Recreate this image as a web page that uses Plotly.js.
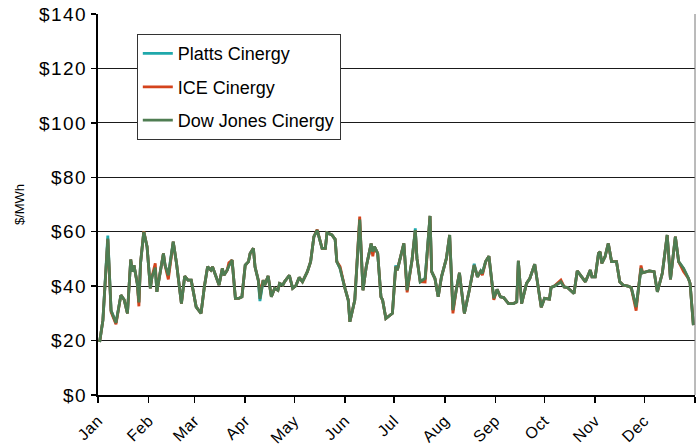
<!DOCTYPE html>
<html>
<head>
<meta charset="utf-8">
<script src="https://cdn.plot.ly/plotly-3.0.1.min.js"></script>
<style>html,body{margin:0;padding:0;background:#fff;}#chart{width:697px;height:447px;}
#chart .ytick text{letter-spacing:1.5px;}
#chart .xtick text{letter-spacing:0.6px;}
</style>
</head>
<body>
<div id="chart"></div>
<script>
const dates = [
 '2005-01-02','2005-01-04','2005-01-07','2005-01-09','2005-01-12','2005-01-15','2005-01-17','2005-01-19','2005-01-21','2005-01-22','2005-01-23','2005-01-25','2005-01-26','2005-01-27','2005-01-29','2005-01-31',
 '2005-02-02','2005-02-03','2005-02-05','2005-02-06','2005-02-10','2005-02-11','2005-02-13','2005-02-16','2005-02-18','2005-02-21','2005-02-23','2005-02-25','2005-02-27',
 '2005-03-02','2005-03-05','2005-03-07','2005-03-09','2005-03-11','2005-03-12','2005-03-14','2005-03-16','2005-03-18','2005-03-19','2005-03-21','2005-03-22','2005-03-24','2005-03-26','2005-03-28','2005-03-30',
 '2005-04-01','2005-04-03','2005-04-04','2005-04-06','2005-04-07','2005-04-09','2005-04-10','2005-04-12','2005-04-13','2005-04-15','2005-04-17','2005-04-19','2005-04-21','2005-04-22','2005-04-24','2005-04-25','2005-04-28','2005-04-30',
 '2005-05-02','2005-05-04','2005-05-06','2005-05-09','2005-05-11','2005-05-13','2005-05-15','2005-05-16','2005-05-18','2005-05-20','2005-05-21','2005-05-24','2005-05-26','2005-05-27','2005-05-29',
 '2005-06-01','2005-06-03','2005-06-04','2005-06-07','2005-06-10','2005-06-12','2005-06-14','2005-06-17','2005-06-18','2005-06-19','2005-06-21','2005-06-23','2005-06-24','2005-06-26','2005-06-30',
 '2005-07-02','2005-07-03','2005-07-07','2005-07-09','2005-07-12','2005-07-14','2005-07-15','2005-07-17','2005-07-20','2005-07-23','2005-07-24','2005-07-26','2005-07-28','2005-07-30',
 '2005-08-02','2005-08-04','2005-08-06','2005-08-08','2005-08-10','2005-08-11','2005-08-13','2005-08-16','2005-08-19','2005-08-21','2005-08-23','2005-08-24','2005-08-26','2005-08-28','2005-08-31',
 '2005-09-02','2005-09-04','2005-09-06','2005-09-09','2005-09-12','2005-09-14','2005-09-15','2005-09-17','2005-09-20','2005-09-22','2005-09-25','2005-09-27','2005-09-29',
 '2005-10-01','2005-10-04','2005-10-05','2005-10-07','2005-10-11','2005-10-13','2005-10-15','2005-10-19','2005-10-21','2005-10-24','2005-10-26','2005-10-29','2005-10-30',
 '2005-11-01','2005-11-03','2005-11-04','2005-11-05','2005-11-07','2005-11-09','2005-11-11','2005-11-14','2005-11-16','2005-11-18','2005-11-21','2005-11-23','2005-11-26','2005-11-29','2005-11-30',
 '2005-12-04','2005-12-07','2005-12-09','2005-12-12','2005-12-15','2005-12-17','2005-12-20','2005-12-22','2005-12-25','2005-12-28','2005-12-29','2005-12-31'
];
const dowJones = [
 19.5,27.5,57.5,31,26.5,36.7,35,30,49.8,45.3,47.7,41,34,48.4,60,54.5,
 39.2,43.4,46.8,37.9,52,47.7,44,56.3,48.4,33.6,43.7,42.2,42.2,
 32.4,30,39.7,47.1,45.9,47.1,44,40.4,46.5,44,45.9,47.5,49.6,35.5,35.5,36.1,
 47.7,49,52,53.9,47.1,42.2,35.3,42.2,40.4,43.7,36.1,39.2,38.5,41,40.4,41.6,44,39.2,
 40.2,43.2,41.6,45.3,49,58.2,60.6,58.4,53.9,53.9,59.6,58.8,57.2,49,46.5,
 39.2,34.9,26.9,34.9,64.5,38.5,47.1,55.7,52.6,54.5,52,36.1,34.9,28.1,30,
 47.1,45.9,55.7,38.5,49.6,60.6,50.2,41.6,42.8,65.8,45.3,42.8,36.1,43.4,
 50.2,58.8,31.2,38.5,44.9,39.7,30,38.5,47.7,43.4,45.6,44.7,49,51,35.5,
 38.8,36.1,35.8,33.6,33.6,34.2,49.3,33.6,41,42.8,48.1,39.7,32.2,
 35.5,35.2,39.5,40,41.6,39.7,39.5,37.3,45.6,43.4,41.6,45.9,43.4,
 43.4,52,52.6,48.4,50.8,55.7,49,49,41.6,40.4,40,39.5,32.3,46.5,44.9,
 45.6,45.3,37.9,44.7,58.8,42.5,58.2,49,46.5,42.8,41,25.7
];
const ice = [
 19.5,27.5,57.2,30.5,26,36.7,35,30,49.8,45.3,47.7,41,32.6,48.4,60.2,54.5,
 39.2,43.4,48.4,37.9,52,47.7,42.5,56.3,48.4,33.6,43.7,42.2,42.2,
 32.4,30,39.7,47.1,45.9,47.1,44,40.4,46.5,44,45.9,48.6,49.6,35.5,35.5,36.1,
 47.7,49,52,53.9,47.1,42.2,37.5,42.2,40.4,43.7,36.1,39.2,38.5,41,40.4,41.6,44,39.2,
 40.2,43.2,41.6,45.3,49,58.2,60.8,58.4,53.9,53.9,59.6,58.8,57.2,49,47.2,
 39.2,34.9,26.9,34.9,65.6,38.5,47.1,55.7,51,54.5,52,36.1,34.9,28.1,30,
 47.1,45.9,55.7,37.7,49.6,60.6,50.2,41.6,41.5,65.8,45.3,42.8,36.1,43.4,
 50.2,58.8,30,38.5,44.9,39.7,30,38.5,47.7,43.4,45.6,44,49,51,35,
 38.8,36.1,35.8,33.6,33.6,34.2,49.3,33.6,41,42.8,48.1,39.7,32.2,
 35.5,35.2,39.5,40,42.2,39.7,39.5,37.3,45.6,43.4,41.6,45.9,43.4,
 43.4,52,52.6,48.4,50.8,55.7,49,49,41.6,40.4,40,39.5,31,47.6,44.9,
 45.6,45.3,37.9,44.7,58.8,42.5,58.2,49,45.4,42.8,41,25.7
];
const platts = [
 19.5,27.5,58.6,31,26.5,36.7,35,30,49.8,45.3,47.7,41,34,48.4,60,54.5,
 39.2,43.4,46.8,37.9,52,47.7,44,56.3,48.4,33.6,43.7,42.2,42.2,
 32.4,30,39.7,47.1,45.9,47.1,44,40.4,46.5,44,45.9,47.5,49.6,35.5,35.5,36.1,
 47.7,49,52,53.9,47.1,42.2,34.5,42.2,40.4,43.7,36.1,39.2,38.5,41,40.4,41.6,44,39.2,
 40.2,43.2,41.6,45.3,49,58.2,60.6,58.4,53.9,53.9,59.6,58.8,57.2,49,46.5,
 39.2,34.9,26.9,34.9,64.5,38.5,47.1,55.7,52.6,54.5,52,36.1,34.9,28.1,30,
 47.6,45.9,55.7,38.5,49.6,61.2,50.2,41.6,42.8,65.8,45.3,42.8,36.1,43.4,
 50.2,58.8,31.2,38.5,44.9,39.7,30,38.5,48.2,43.4,45.6,44.7,49,51,35.5,
 38.8,36.1,35.8,33.6,33.6,34.2,49.3,33.6,41,42.8,48.1,39.7,32.2,
 35.5,35.2,39.5,40,41.6,39.7,39.5,37.3,45.6,43.4,41.6,45.9,43.4,
 43.4,52,52.6,48.4,50.8,55.7,49,49,41.6,40.4,40,39.5,32.3,46.5,44.9,
 45.6,45.3,37.9,44.7,58.8,42.5,58.2,49,46.5,42.8,41,25.7
];
const seriesNames = ['Platts Cinergy','ICE Cinergy','Dow Jones Cinergy'];
const seriesColors = ['#1fa8ab','#d4431c','#4f7d52'];
const monthTicks = ['2005-01-01','2005-02-01','2005-03-01','2005-04-01','2005-05-01','2005-06-01','2005-07-01','2005-08-01','2005-09-01','2005-10-01','2005-11-01','2005-12-01','2006-01-01'];
const monthLabels = ['Jan','Feb','Mar','Apr','May','Jun','Jul','Aug','Sep','Oct','Nov','Dec',''];
const yTicks = [0,20,40,60,80,100,120,140];
const yLabels = ['$0','$20','$40','$60','$80','$100','$120','$140'];

const values = [platts, ice, dowJones];
const traces = values.map((v,i)=>({
  x: dates, y: v, type:'scatter', mode:'lines', name: seriesNames[i],
  legendgroup: 'g'+i,
  line:{color: seriesColors[i], width:2.8}
}));

const font = 'Liberation Sans, Arial, sans-serif';
const layout = {
  width:697, height:447,
  margin:{l:98, r:2, t:14, b:52},
  paper_bgcolor:'#fff', plot_bgcolor:'#fff',
  font:{family:font, color:'#000', size:16},
  showlegend:true,
  legend:{x:0.065, y:0.947, xanchor:'left', yanchor:'top', bgcolor:'#fff', bordercolor:'#333', borderwidth:1,
    font:{family:font, size:18, color:'#000'}, traceorder:'grouped', tracegroupgap:7},
  xaxis:{type:'date', range:['2005-01-01','2006-01-01'], tickmode:'array', tickvals:monthTicks, ticktext:monthLabels,
    tickangle:-45, ticks:'outside', ticklen:6, tickwidth:1.5, tickcolor:'#000', ticklabelstandoff:2,
    showline:true, linecolor:'#000', linewidth:2, showgrid:false, zeroline:false,
    tickfont:{family:font, size:16, color:'#000'}},
  yaxis:{range:[0,140], tickmode:'array', tickvals:yTicks, ticktext:yLabels, ticks:'outside', ticklen:5, tickwidth:1.5, tickcolor:'#000',
    showline:true, linecolor:'#000', linewidth:2, showgrid:true, gridcolor:'#1a1a1a', gridwidth:1, zeroline:false,
    tickfont:{family:font, size:19, color:'#000'},
    title:{text:'$/MWh', font:{family:font, size:13, color:'#000'}, standoff:17}},
  shapes:[{type:'line', xref:'paper', yref:'paper', x0:1, x1:1, y0:0, y1:1, line:{color:'#777', width:1}}]
};
Plotly.newPlot('chart', traces, layout, {staticPlot:true, displayModeBar:false});
</script>
</body>
</html>
